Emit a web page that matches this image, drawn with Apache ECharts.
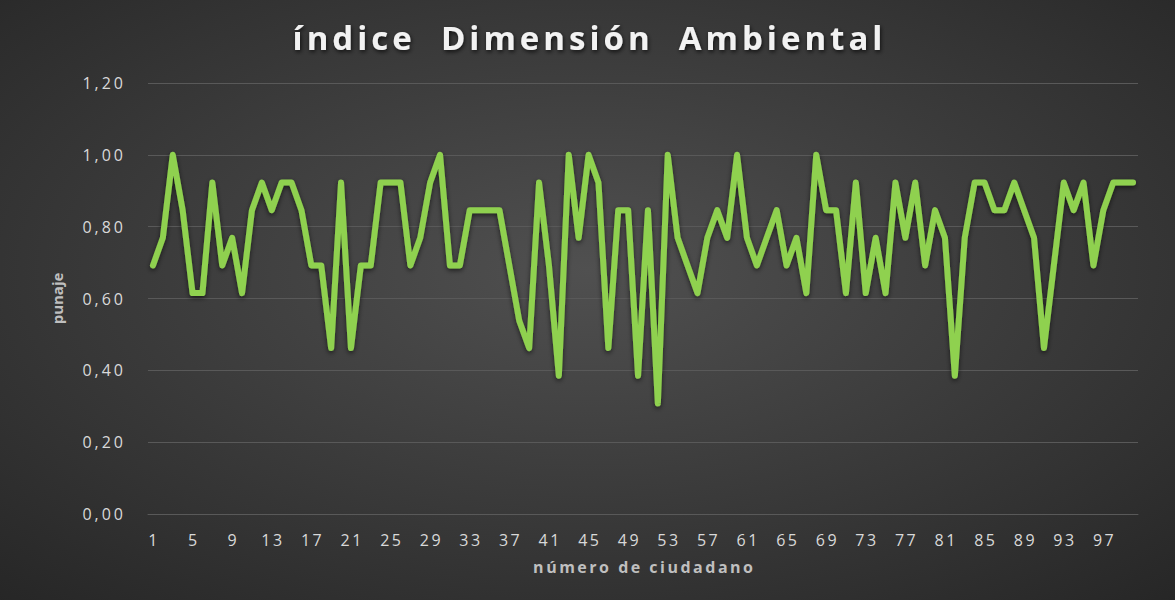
<!DOCTYPE html>
<html>
<head>
	<meta charset="utf-8">
	<title>índice Dimensión Ambiental</title>
	<script src="https://cdn.jsdelivr.net/npm/echarts@6/dist/echarts.min.js"></script>
	<style>
		html, body { margin: 0; padding: 0; background: #fff; }
		#chart { width: 1175px; height: 600px; }
	</style>
</head>
<body>
<div id="chart"></div>
<script>
	// número de ciudadano 1..100
	var ciudadanos = [];
	for (var n = 1; n <= 100; n++) { ciudadanos.push(String(n)); }

	// puntaje
	var puntaje = [
		0.692, 0.769, 1.000, 0.846, 0.615, 0.615, 0.923, 0.692, 0.769, 0.615,
		0.846, 0.923, 0.846, 0.923, 0.923, 0.846, 0.692, 0.692, 0.462, 0.923,
		0.462, 0.692, 0.692, 0.923, 0.923, 0.923, 0.692, 0.769, 0.923, 1.000,
		0.692, 0.692, 0.846, 0.846, 0.846, 0.846, 0.692, 0.538, 0.462, 0.923,
		0.692, 0.385, 1.000, 0.769, 1.000, 0.923, 0.462, 0.846, 0.846, 0.385,
		0.846, 0.308, 1.000, 0.769, 0.692, 0.615, 0.769, 0.846, 0.769, 1.000,
		0.769, 0.692, 0.769, 0.846, 0.692, 0.769, 0.615, 1.000, 0.846, 0.846,
		0.615, 0.923, 0.615, 0.769, 0.615, 0.923, 0.769, 0.923, 0.692, 0.846,
		0.769, 0.385, 0.769, 0.923, 0.923, 0.846, 0.846, 0.923, 0.846, 0.769,
		0.462, 0.692, 0.923, 0.846, 0.923, 0.692, 0.846, 0.923, 0.923, 0.923
	];

	var titulo = 'índice  Dimensión  Ambiental';
	var ejeX = 'número de ciudadano';
	var ejeY = 'punaje';

	var myChart = echarts.init(document.getElementById('chart'), null, { renderer: 'svg' });

	var option = {
		animation: false,
		backgroundColor: {
			type: 'radial', x: 0.5, y: 0.45, r: 0.75,
			colorStops: [
				{ offset: 0, color: '#505050' },
				{ offset: 1, color: '#262626' }
			]
		},
		title: {
			text: titulo,
			left: 'center',
			top: 16,
			textStyle: {
				color: '#f2f2f2',
				fontFamily: 'Open Sans',
				fontSize: 33,
				fontWeight: 'bold',
				textShadowColor: 'rgba(0,0,0,0.7)',
				textShadowBlur: 4,
				textShadowOffsetX: 1,
				textShadowOffsetY: 2
			}
		},
		grid: {
			left: 148,
			right: 37,
			top: 83,
			bottom: 86
		},
		xAxis: {
			type: 'category',
			data: ciudadanos,
			name: ejeX,
			nameLocation: 'middle',
			nameGap: 45,
			nameTextStyle: {
				color: '#bfbfbf',
				fontFamily: 'Open Sans',
				fontSize: 16,
				fontWeight: 'bold'
			},
			axisLine: { show: true, lineStyle: { color: '#595959', width: 1 } },
			axisTick: { show: false },
			axisLabel: {
				interval: 3,
				color: '#d9d9d9',
				fontFamily: 'Open Sans',
				fontSize: 16,
				margin: 18
			}
		},
		yAxis: {
			type: 'value',
			min: 0,
			max: 1.2,
			interval: 0.2,
			name: ejeY,
			nameLocation: 'middle',
			nameGap: 84,
			nameTextStyle: {
				color: '#bfbfbf',
				fontFamily: 'Open Sans',
				fontSize: 15,
				fontWeight: 'bold'
			},
			axisLine: { show: false },
			axisTick: { show: false },
			axisLabel: {
				color: '#d9d9d9',
				fontFamily: 'Open Sans',
				fontSize: 16,
				margin: 25,
				formatter: function (v) { return v.toFixed(2).replace('.', ','); }
			},
			splitLine: { lineStyle: { color: '#595959', width: 1 } }
		},
		series: [{
			type: 'line',
			data: puntaje,
			symbol: 'none',
			lineStyle: {
				color: '#8fd14f',
				width: 6,
				join: 'round',
				cap: 'round',
				shadowColor: 'rgba(0,0,0,0.6)',
				shadowBlur: 5,
				shadowOffsetY: 2
			},
			itemStyle: { color: '#8fd14f' }
		}]
	};

	myChart.setOption(option);

	// el original tiene el texto más ancho: espaciado de letras
	function espaciar(t, ls, ancla) {
		var b0 = t.getBBox();
		t.style.letterSpacing = ls + 'px';
		var b1 = t.getBBox();
		var dx;
		if (ancla === 'end') {
			dx = (b0.x + b0.width) - (b1.x + b1.width - ls);
		} else {
			dx = (b0.x + b0.width / 2) - (b1.x + (b1.width - ls) / 2);
		}
		var x0 = parseFloat(t.getAttribute('x') || 0);
		t.setAttribute('x', x0 + dx);
	}

	var textos = document.querySelectorAll('#chart svg text');
	for (var i = 0; i < textos.length; i++) {
		var t = textos[i];
		var s = t.textContent.replace(/\s+/g, ' ');
		if (s === titulo.replace(/\s+/g, ' ')) {
			espaciar(t, 4, 'middle');
		} else if (s === ejeY) {
			// se queda igual
		} else if (s === ejeX) {
			espaciar(t, 2.5, 'middle');
		} else if (s.indexOf(',') >= 0) {
			espaciar(t, 3, 'end');
		} else {
			espaciar(t, 2.5, 'middle');
		}
	}
</script>
</body>
</html>
